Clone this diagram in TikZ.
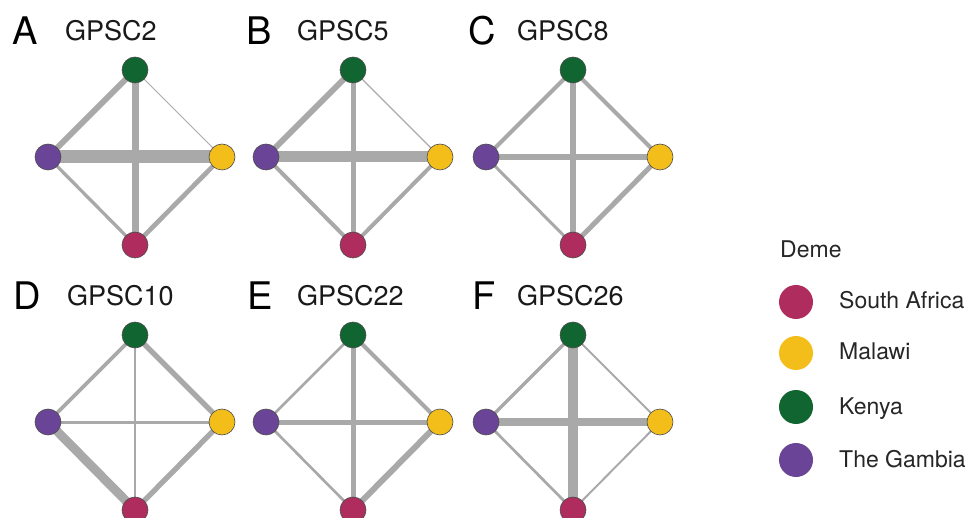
\documentclass[tikz,border=0pt]{standalone}
\usepackage{fontspec}
\setmainfont{TeX Gyre Heros}
\usetikzlibrary{backgrounds}
\definecolor{safrica}{HTML}{AE2C5E}
\definecolor{malawi}{HTML}{F4BE1A}
\definecolor{kenya}{HTML}{116530}
\definecolor{gambia}{HTML}{6A4597}
\definecolor{linkgray}{HTML}{A9A9A9}
\begin{document}
\begin{tikzpicture}[x=1pt,y=-1pt,
  deme/.style={circle,draw=black!70,line width=0.6pt,inner sep=0pt,minimum size=26pt},
  link/.style={linkgray,line width=#1},
  keydot/.style={circle,inner sep=0pt,minimum size=34pt},
  panel/.style={inner sep=0pt,anchor=base west,font=\fontsize{38}{38}\selectfont},
  title/.style={inner sep=0pt,anchor=base west,text=black!90,font=\fontsize{27}{27}\selectfont},
  keytext/.style={inner sep=0pt,anchor=base west,text=black!85,font=\fontsize{23}{23}\selectfont}]
\useasboundingbox (0,0) rectangle (969,518);
% one diamond per cluster: kenya top, gambia left, malawi right, south africa bottom
\foreach \p/\g/\lx/\tx/\x/\y/\kg/\km/\ks/\gm/\gs/\ms in {
  A/2/12/65/135/70/6/1/7/13/3.3/4.7,
  B/5/246/297/353/70/5.7/1.3/5/11/4/4,
  C/8/468/517/573/70/4/4/6/6/3/5,
  D/10/13/67/135/335/3.7/5.3/2/3/9/5.3,
  E/22/247/297/353/335/2.7/4/5/5/2.7/6,
  F/26/472/517/573/335/3.3/2/10/7.3/2.7/2}{
  \node[panel] (lab\p) at (\lx,\y-25) {\p};
  \node[title] (tit\p) at (\tx,\y-29) {GPSC\g};
  \node[deme,fill=kenya] (k\p) at (\x,\y) {};
  \node[deme,fill=gambia] (g\p) at (\x-87,\y+87) {};
  \node[deme,fill=malawi] (m\p) at (\x+87,\y+87) {};
  \node[deme,fill=safrica] (s\p) at (\x,\y+175) {};
  \begin{pgfonlayer}{background}
    \draw[link=\kg] (k\p.center)--(g\p.center);
    \draw[link=\km] (k\p.center)--(m\p.center);
    \draw[link=\ks] (k\p.center)--(s\p.center);
    \draw[link=\gm] (g\p.center)--(m\p.center);
    \draw[link=\gs] (g\p.center)--(s\p.center);
    \draw[link=\ms] (m\p.center)--(s\p.center);
  \end{pgfonlayer}
}
% legend
\node[keytext] (deme) at (780,258) {Deme};
\foreach \c/\n/\yy in {safrica/South Africa/302,malawi/Malawi/353,kenya/Kenya/407,gambia/The Gambia/460}{
  \node[keydot,fill=\c] (dot\c) at (796,\yy) {};
  \node[keytext] (txt\c) at (839,\yy+7) {\n};
}
\end{tikzpicture}
\end{document}
